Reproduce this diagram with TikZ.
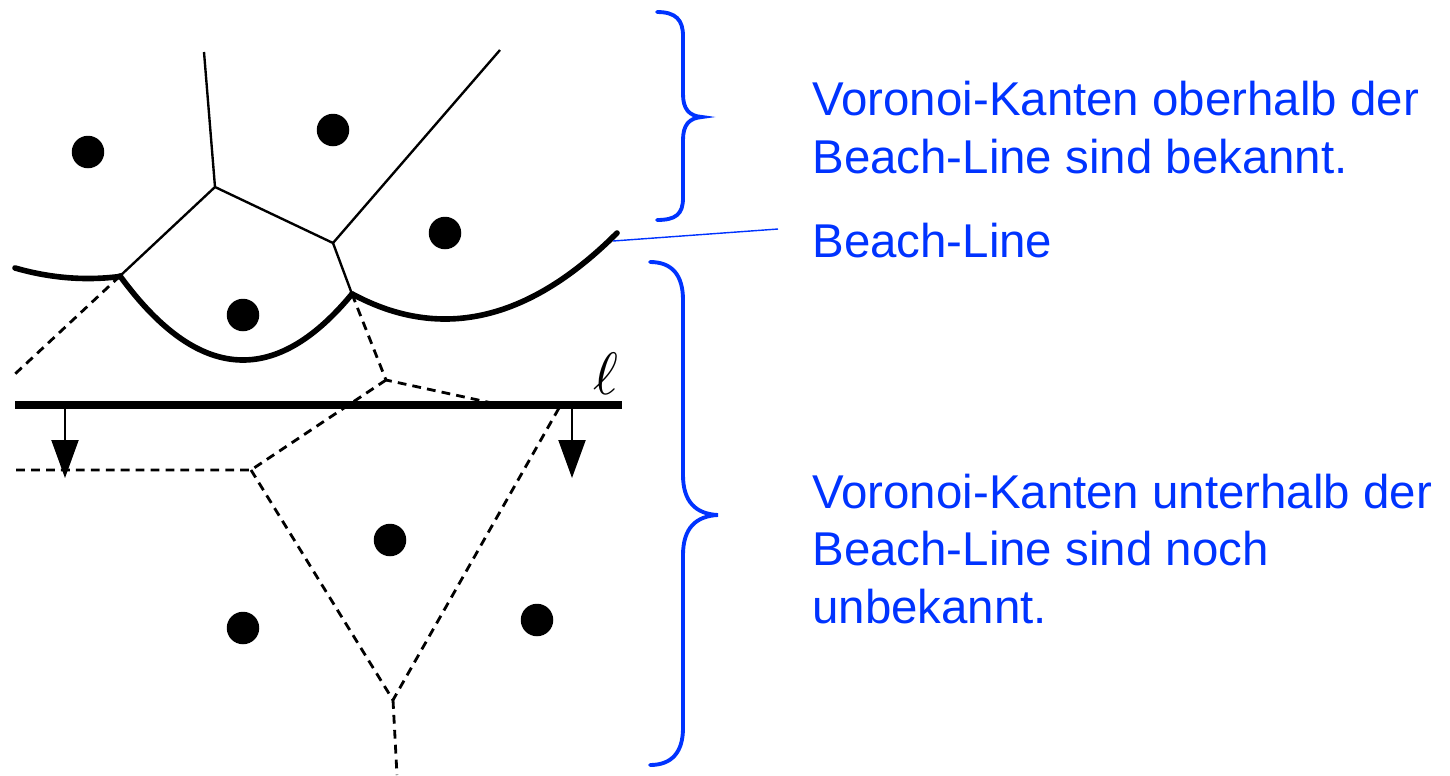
\documentclass[tikz,border=0pt]{standalone}
\usepackage{fontspec}
\setmainfont{Liberation Sans}
\usetikzlibrary{arrows.meta}
\definecolor{cblue}{RGB}{0,51,255}
\begin{document}
\begin{tikzpicture}[x=0.02cm,y=-0.02cm,
  edge/.style={line width=1.35pt, black},
  dashedge/.style={line width=1.6pt, dash pattern=on 5pt off 3.5pt},
  beach/.style={line width=3.2pt, line cap=round},
  sweep/.style={line width=4pt},
  downarrow/.style={line width=1.2pt, -{Triangle[length=0.76cm,width=0.54cm]}},
  brace/.style={cblue, line width=2.2pt, line cap=round},
  pointer/.style={cblue, line width=0.8pt},
  lbl/.style={text=cblue, font=\fontsize{27}{32.6}\selectfont, align=left, anchor=base west, inner sep=0pt},
  site/.style={circle, fill=black, inner sep=0pt, minimum size=0.65cm}
]
\useasboundingbox (0,0) rectangle (1450,775);
% sites
\node[site] (s1) at (88,152) {};
\node[site] (s2) at (333,130) {};
\node[site] (s3) at (445,233) {};
\node[site] (s4) at (243,315) {};
\node[site] (s5) at (390,540) {};
\node[site] (s6) at (243,628) {};
\node[site] (s7) at (537,620) {};
% vertices and breakpoints
\coordinate (top1) at (204,52);
\coordinate (top2) at (500,50);
\coordinate (V1) at (215,187);
\coordinate (V2) at (333,243);
\coordinate (B1) at (120,276);
\coordinate (B2) at (352,294);
\coordinate (L1) at (15,374);
\coordinate (V3) at (386,380);
\coordinate (R3) at (492,403);
\coordinate (V4) at (251,470);
\coordinate (L4) at (15,470);
\coordinate (R5) at (559,408);
\coordinate (V5) at (393,700);
\coordinate (bot) at (397,775);
% known Voronoi edges
\draw[edge] (top1) -- (V1) -- (V2) -- (top2);
\draw[edge] (V1) -- (B1);
\draw[edge] (V2) -- (B2);
% unknown edges
\draw[dashedge] (B1) -- (L1);
\draw[dashedge] (B2) -- (V3) -- (R3);
\draw[dashedge] (V3) -- (V4) -- (L4);
\draw[dashedge] (V4) -- (V5) -- (R5);
\draw[dashedge] (V5) -- (bot);
% beach line
\draw[beach] plot[domain=15:120, samples=30, smooth] (\x,{278.5-((\x-88)/22.49)^2});
\draw[beach] plot[domain=120:352, samples=50, smooth] (\x,{360-((\x-243)/13.416)^2});
\draw[beach] plot[domain=352:617, samples=50, smooth] (\x,{319-((\x-445)/18.547)^2});
% sweep line
\coordinate (sl) at (15,405);
\coordinate (sr) at (622,405);
\draw[sweep] (sl) -- (sr);
\node[anchor=base west, inner sep=0pt, scale=3.4] (ell) at (592,394) {$\ell$};
\coordinate (a1) at (65,405);
\coordinate (a1e) at (65,478);
\coordinate (a2) at (572,405);
\coordinate (a2e) at (572,478);
\draw[downarrow] (a1) -- (a1e);
\draw[downarrow] (a2) -- (a2e);
% braces
\draw[brace] (657,12) .. controls (676,12) and (683,20) .. (683,36) -- (683,94)
  .. controls (683,109) and (689,116) .. (702,117)
  .. controls (689,118) and (683,125) .. (683,140) -- (683,198)
  .. controls (683,214) and (676,220) .. (657,220);
\draw[brace] (650,262) .. controls (672,262) and (683,275) .. (683,300) -- (683,475)
  .. controls (683,502) and (696,514) .. (718,515)
  .. controls (696,516) and (683,528) .. (683,555) -- (683,728)
  .. controls (683,752) and (672,765) .. (650,765);
% pointer
\coordinate (bend) at (613,241);
\coordinate (pe) at (778,229);
\draw[pointer] (bend) -- (pe);
% labels
\node[lbl] (t1) at (812,173) {Voronoi-Kanten oberhalb der\\Beach-Line sind bekannt.};
\node[lbl] (t2) at (812,257) {Beach-Line};
\node[lbl] (t3) at (812,623) {Voronoi-Kanten unterhalb der\\Beach-Line sind noch\\unbekannt.};
\end{tikzpicture}
\end{document}
